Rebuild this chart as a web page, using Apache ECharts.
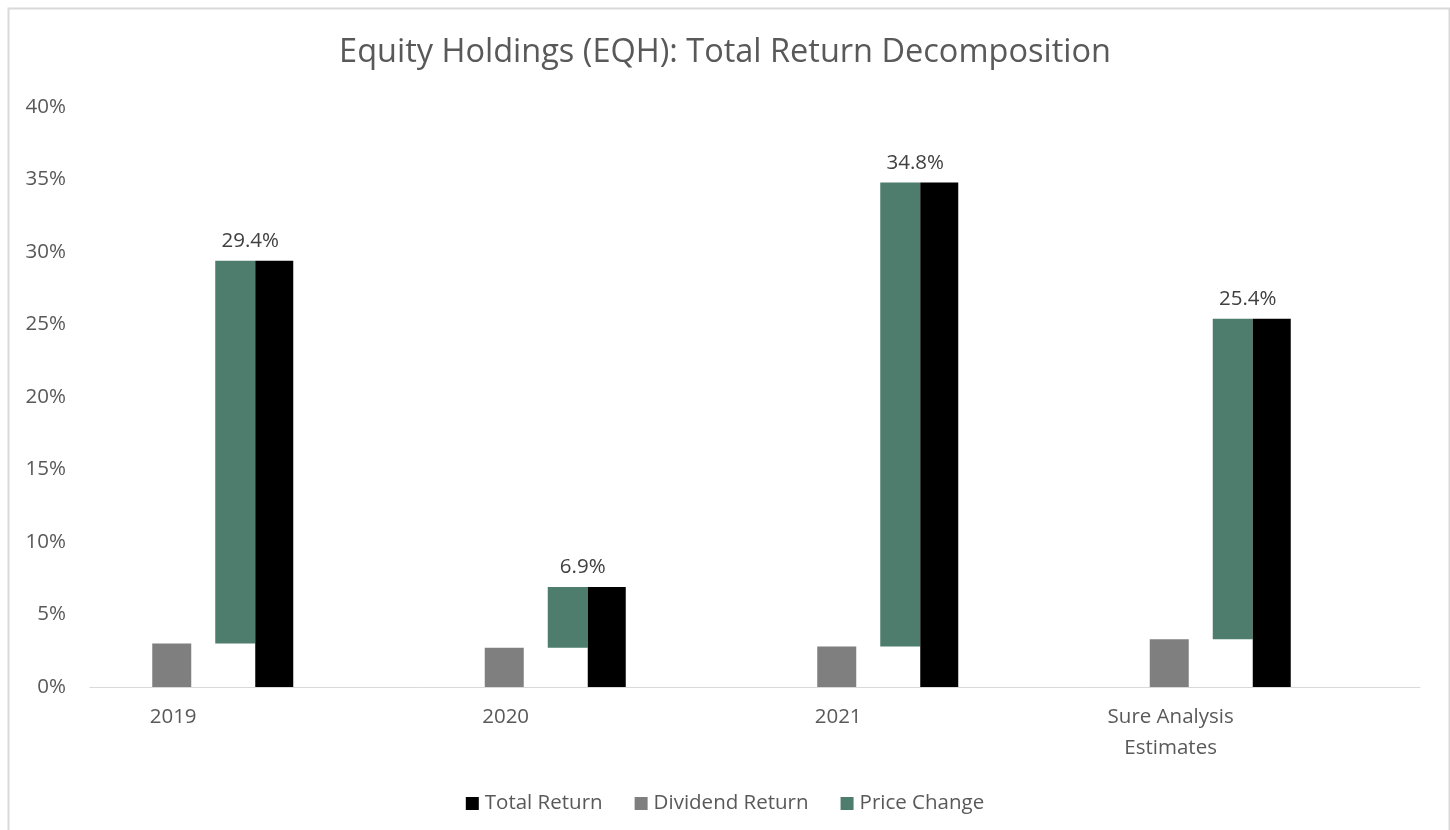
<!DOCTYPE html>
<html>
<head>
<meta charset="utf-8">
<script src="https://cdn.jsdelivr.net/npm/echarts@6/dist/echarts.min.js"></script>
<style>
html,body{margin:0;padding:0;background:#fff;}
#chart{width:1450px;height:830px;}
</style>
</head>
<body>
<div id="chart"></div>
<script>
var categories = ['2019', '2020', '2021', 'Sure Analysis\nEstimates'];
var totalReturn = [29.4, 6.9, 34.8, 25.4];
var dividendReturn = [3.0, 2.7, 2.8, 3.3];
var priceChange = [26.4, 4.2, 32.0, 22.1];
var yTicks = [0, 5, 10, 15, 20, 25, 30, 35, 40];

var FONT = '"Segoe UI", "Open Sans", sans-serif';
var TXT = '#595959';
var GREEN = '#4E7D6D';
var GRAY = '#7F7F7F';
var FS = 20.5;

// label axis: each category label sits under the dividend bar (left half of the group)
var labelCats = [];
categories.forEach(function (c) { labelCats.push(c); labelCats.push(''); });

var chart = echarts.init(document.getElementById('chart'));
chart.setOption({
  animation: false,
  backgroundColor: '#fff',
  textStyle: { fontFamily: FONT },
  graphic: [{
    type: 'rect', left: 6, top: 6,
    shape: { width: 1441, height: 840 },
    style: { fill: 'none', stroke: '#D9D9D9', lineWidth: 2 },
    silent: true, z: -1
  }],
  title: {
    text: 'Equity Holdings (EQH): Total Return Decomposition',
    left: 'center', top: 31,
    textStyle: { fontFamily: FONT, fontSize: 32.5, fontWeight: 'normal', color: TXT }
  },
  legend: {
    data: ['Total Return', 'Dividend Return', 'Price Change'],
    top: 788, left: 'center',
    icon: 'rect', itemWidth: 13, itemHeight: 13, itemGap: 32,
    textStyle: { fontFamily: FONT, fontSize: FS, color: TXT, padding: [0, 0, 0, 1] }
  },
  grid: { left: 90, right: 30, top: 107, bottom: 143 },
  xAxis: [{
    type: 'category', data: categories,
    axisLine: { lineStyle: { color: '#D9D9D9', width: 1 } },
    axisTick: { show: false }, axisLabel: { show: false }
  }, {
    type: 'category', data: labelCats, position: 'bottom', gridIndex: 0,
    axisLine: { show: false }, axisTick: { show: false }, splitLine: { show: false },
    axisLabel: { interval: 0, margin: 15, fontFamily: FONT, fontSize: FS, color: TXT, lineHeight: 31 }
  }],
  yAxis: {
    type: 'value', min: yTicks[0], max: yTicks[yTicks.length - 1], interval: 5,
    axisLine: { show: false }, axisTick: { show: false }, splitLine: { show: false },
    axisLabel: { formatter: '{value}%', margin: 24, fontFamily: FONT, fontSize: FS, color: TXT }
  },
  series: [{
    name: 'Dividend Return', type: 'bar', data: dividendReturn,
    barWidth: 39, barGap: '0%', itemStyle: { color: GRAY }
  }, {
    name: 'spacer1', type: 'bar', data: categories.map(function () { return '-'; }),
    barWidth: 24, barGap: '0%', silent: true, itemStyle: { color: 'transparent' }
  }, {
    name: 'base', type: 'bar', stack: 'pc', data: dividendReturn,
    barWidth: 40, barGap: '0%', silent: true, itemStyle: { color: 'transparent' }
  }, {
    name: 'Price Change', type: 'bar', stack: 'pc', data: priceChange,
    barWidth: 40, barGap: '0%', itemStyle: { color: GREEN },
    label: {
      show: true, position: 'top', distance: 9, offset: [15, 0],
      fontFamily: FONT, fontSize: FS, color: '#404040',
      formatter: function (p) { return totalReturn[p.dataIndex].toFixed(1) + '%'; }
    }
  }, {
    name: 'Total Return', type: 'bar', data: totalReturn,
    barWidth: 38, barGap: '0%', itemStyle: { color: '#000000' }
  }, {
    name: 'spacer2', type: 'bar', data: categories.map(function () { return '-'; }),
    barWidth: 67, barGap: '0%', silent: true, itemStyle: { color: 'transparent' }
  }]
});
</script>
</body>
</html>
